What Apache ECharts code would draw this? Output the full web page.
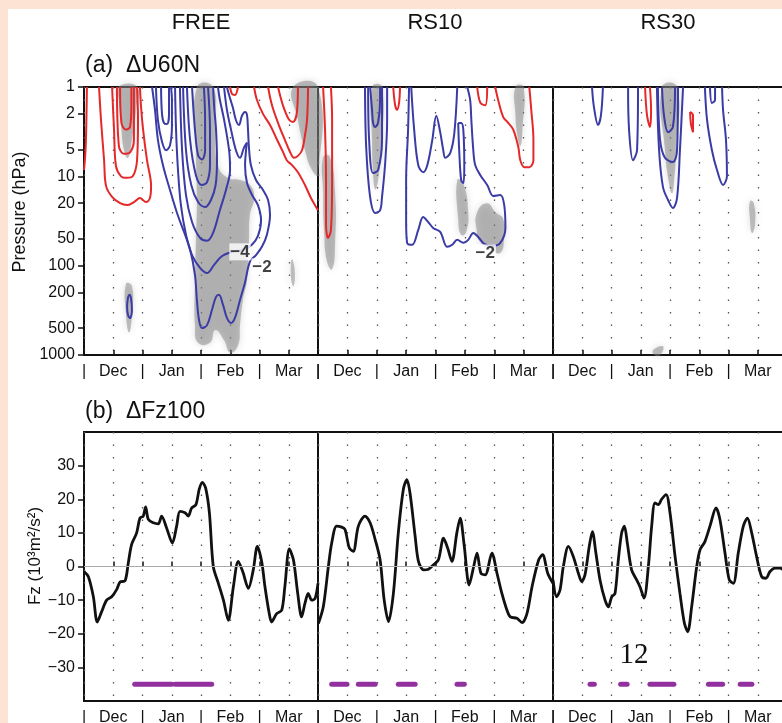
<!DOCTYPE html>
<html>
<head>
<meta charset="utf-8">
<script src="https://cdn.jsdelivr.net/npm/echarts@6/dist/echarts.min.js"></script>
<style>
  html, body { margin: 0; padding: 0; background: #fff; }
  #main { width: 782px; height: 723px; }
</style>
</head>
<body>
<div id="main"></div>
<script>
// ---- data (days from Dec 1, 30 days per month; pressure in hPa) ----
var panelNames = ['FREE', 'RS10', 'RS30'];
var monthNames = ['Dec', 'Jan', 'Feb', 'Mar'];
var pressureTicks = [1, 2, 5, 10, 20, 50, 100, 200, 500, 1000];
var fzTicks = [-30, -20, -10, 0, 10, 20, 30];
var sigLevel = -35;

// (a) dU60N contours, [day, hPa]
var freeRed = [
  [[1.5,1],[1.2,2.5],[0.8,5],[0,8.5]],
  [[7.7,1],[8.7,2.3],[10.3,6.6],[11.3,12.8],[14.4,17],[18.5,20],[22.1,21],[25.6,19.4],[28.7,17.5],[31.8,19.4],[33.8,17.5],[34.4,12.8],[32.3,6.6],[30.3,3],[29.2,1.6],[28.7,1]],
  [[14.4,1],[15.4,3],[16.4,7.7],[19,10],[22,10.4],[25,10],[27.2,6.6],[27.7,2.3],[27.2,1]],
  [[16.9,1],[17.9,4.6],[20.5,5.6],[23.6,5.4],[25.6,3.9],[25.6,1]],
  [[18.5,1],[19.2,2.5],[21.5,3],[23.6,2.8],[24.3,1.6],[24.3,1]],
  [[74.9,1],[75.9,1.2],[77.4,1.23],[79,1]],
  [[87.2,1],[88.7,1.4],[91.8,2],[95.4,2.66],[99,3.9],[102,5.3],[104,6.6],[106.7,7.5],[109.7,9],[113.3,12.5],[116.4,17.5],[119,22],[120,24]],
  [[94.4,1],[96.4,1.6],[100,2.7],[103,3.9],[105.6,5.3],[107.7,6.2],[109.7,5.9],[111.8,5.1],[113.3,3.5],[114.4,2.3],[114.9,1]],
  [[99.5,1],[102,1.6],[105,2.3],[107.2,2.47],[109.2,1.9],[109.7,1]]
];
var freeBlue = [
  [[34.9,1],[36.4,1.8],[37.9,3.9],[40.5,7.5],[44.1,14.2],[47.7,25.7],[51.3,42],[54.4,66],[56.9,127],[57.9,242],[59,406],[60.5,500],[63.1,463],[65.6,314],[67.7,224],[69.2,212],[71.3,275],[73.3,385],[75.4,439],[77.4,385],[80,242],[82.6,153],[85.1,90],[88.2,76],[91.3,61],[93.8,45],[95.4,27],[94.4,18.4],[91.8,14.2],[88.2,11],[85.6,7.5],[84.6,4.8],[84.1,3],[83.6,2.06],[82.6,1.9],[81,2.1],[79.5,2.66],[77.9,2.34],[76.4,1.72],[74.4,1.23],[73.3,1]],
  [[46.7,1],[47.2,3],[48.2,8.5],[49.7,21],[52.3,45],[55.4,76],[59.5,106],[63.1,121],[66.7,98],[70.8,78],[75.9,70],[82,66],[86.2,58],[89.2,46.5],[90.8,31],[89.2,21],[86.2,16.2],[83.6,11.9],[82.6,7.5],[83.1,5.1],[83.6,4.2],[82,4.8],[80,6.2],[77.9,5.1],[75.4,3],[73.3,1.8],[71.8,1]],
  [[49.2,1],[50.3,5.1],[52.3,16.2],[55.4,32.5],[59.5,49],[63.1,52.7],[66.2,43],[69.7,23.8],[72.8,14.2],[74.9,8.5],[74.4,5.1],[71.8,2.3],[69.7,1.4],[68.7,1]],
  [[50.8,1],[52.3,5.1],[55,12.5],[58.5,19.4],[62.1,22.1],[65.1,18.4],[67.5,12.5],[68.2,6.6],[67.7,3],[66.7,1.6],[66.2,1]],
  [[52.8,1],[54.4,3.9],[57.4,9.7],[60.5,12.5],[63.1,11.6],[64.6,7.5],[64.6,3],[63.6,1]],
  [[55.4,1],[56.9,3],[58.5,5.8],[60.5,6.5],[62.1,5.1],[62.1,2.3],[61.5,1]],
  [[36.9,1],[37.9,2.34],[40,4.1],[42.1,5.1],[44.1,4.5],[45.1,2.66],[45.1,1.4],[44.6,1]],
  [[39.5,1],[40,2],[41,2.53],[42.6,2.6],[43.6,2],[43.6,1]],
  [[22.6,224],[22.1,290],[22.6,360],[23.6,386],[24.6,315],[24.1,233],[23.3,212],[22.6,224]]
];
var freeShade = [
  [[17.4,1],[27.2,1],[26.7,1.8],[24.6,3.9],[22.6,6.2],[20.5,5.1],[19,2.7],[17.9,1.4]],
  [[57.9,1],[66.2,1],[67.2,3],[68.7,7.5],[73.8,10.4],[80,11],[85.1,12.5],[87.2,17.5],[85.1,27],[84.6,58],[83.6,145],[81.5,242],[80,463],[79,777],[74.9,940],[71.8,683],[67.2,527],[64.6,730],[58.5,730],[56.9,463],[56.9,145],[57.4,51],[57.9,18.4],[57.4,5.1]],
  [[107.2,1],[120,1],[120,9.7],[116.9,8.5],[113.3,5.1],[109.7,2.34]],
  [[106.5,85],[108,110],[107.5,170],[106.2,140]],
  [[21.5,160],[24.6,170],[24.6,350],[23.1,560],[21.5,350]]
];
var rs10Red = [
  [[2.6,1],[3.6,3],[4.1,11],[4.1,35],[5.1,49],[6.6,40],[7.2,11],[7.2,2.3],[6.6,1]],
  [[38.4,1],[39.4,1.6],[40.4,1.8],[41.4,1.5],[41.9,1]],
  [[81.3,1],[82.9,1.5],[85.4,1.6],[86.4,1]],
  [[90.5,1],[92,1.4],[94.6,2.17],[97.2,2.53],[99.7,3],[102.3,4.7],[103.3,6.6],[105.4,7.9],[107.9,7.9],[110,6.6],[110,3.9],[108.9,1.8],[107.9,1]]
];
var rs10Blue = [
  [[24,1],[24.6,4.7],[26.6,17],[29.2,25.7],[31.7,24],[32.7,17],[34.3,7.1],[35.3,2.34],[35.3,1]],
  [[25.6,1],[26.1,3.9],[28.1,9.2],[30.7,8.5],[32.7,3.9],[32.7,1]],
  [[26.6,1],[27.6,1.8],[28.1,2.5],[29.2,2.8],[30.7,2.5],[31.7,1.4],[31.7,1]],
  [[46.5,1],[46,3],[45,11],[45,30.8],[45.5,55.5],[48.1,58.4],[51.2,39.8],[53.7,28.5],[56.3,32.5],[58.8,37.8],[62.4,41.9],[66,61.5],[68.5,58.4],[71.1,51.4],[74.2,55.5],[76.7,51.4],[79.3,43],[81.8,47.7],[84.9,57],[89,60],[93.1,55.5],[95.7,37.8],[95.1,21],[93.1,16.2],[89.5,16.6],[86.4,12.5],[82.9,9.7],[80.3,7.5],[79.3,5.1],[78.3,2.34],[77.7,1.4],[76.2,1]],
  [[47.6,1],[49.1,3],[51.2,7.5],[53.7,9],[55.8,7.5],[58.3,4],[60.4,2.1],[62.4,3.2],[63.9,5],[65,6.2],[67.5,5.5],[69.6,3.3],[71.1,1]],
  [[71.6,2.53],[72.1,5.1],[73.1,11],[74.2,11.9],[74.7,7.5],[74.2,3],[73.1,2.53],[71.6,2.53]]
];
var rs10Shade = [
  [[2.6,6.1],[6,6],[8.7,15],[8.7,60],[7.2,110],[4.6,90],[3.1,40],[2.6,15]],
  [[27.6,1],[32.7,1],[32.2,5],[30.7,11],[29.2,14],[28.1,9],[27.6,4]],
  [[71.1,11],[74.2,12],[76.7,25],[75.5,43],[73,45],[71.6,30]],
  [[81.3,25],[86.4,20],[90.5,25],[94.6,30],[95,50],[93,72],[88,65],[83,55],[81,40]],
  [[100.8,1],[104.9,1],[104.4,3],[103.3,4.6],[101.8,3.5],[100.8,2]]
];
var rs30Red = [
  [[47.2,1],[48.2,2.06],[49.7,2.8],[50.3,1.8],[49.7,1]],
  [[70.3,1.9],[70.8,2.66],[71.8,3.2],[71.8,2.06],[70.3,1.9]]
];
var rs30Blue = [
  [[20,1],[21,1.68],[23.1,2.66],[24.6,2.06],[25.6,1]],
  [[38.5,1],[39,3],[41,6.6],[43.1,5.1],[43.6,1]],
  [[53.3,1],[54.4,5.1],[56.4,13.2],[59,18.4],[61.5,22.6],[63.6,17.5],[65.1,5.1],[66.7,1]],
  [[53.8,1],[54.9,3.9],[57.4,6.2],[61.5,6.9],[63.6,5.1],[64.1,1]],
  [[55.9,1],[56.9,2.06],[59,3.2],[61.5,2.8],[62.6,1]],
  [[77.9,1],[79,2.34],[81.5,5.1],[84.1,8.5],[87.2,12.5],[89.2,10],[88.7,3.9],[87.2,1.8],[86.7,1]],
  [[80.5,1],[81.5,1.51],[83.1,1.4],[83.1,1]]
];
var rs30Shade = [
  [[55.9,1],[63.6,1],[63.1,5],[62,12],[61,15.5],[59.5,12],[57.4,5]],
  [[101,19],[103,20],[103.6,35],[102,43],[101,30]],
  [[51.3,880],[56.4,800],[55,1000],[52,1000]]
];
// contour labels: [panel, day, hPa, text]
var contourLabels = [[0, 80, 70, '−4'], [0, 91.3, 103, '−2'], [1, 85.4, 72, '−2']];

// (b) dFz100, [day, value]
var fzFree = [[0,-1.5],[2.2,-3],[4.8,-9],[6.8,-16.5],[9,-13.5],[11.6,-10],[14.2,-9],[16.8,-6.8],[18.5,-4.6],[21,-4.3],[22.7,1],[24.4,6.5],[27,10],[28.7,14.4],[30.4,15],[31.6,17.7],[33,14],[35.6,13],[38.1,12.7],[39.8,15],[42.4,11.4],[45.3,7],[47.5,12],[49.2,16.4],[51.8,16],[53.5,15],[55.2,17.4],[57.4,18.4],[59.1,23],[60.7,25],[62.4,23.3],[64.3,16],[66.3,0],[68.9,-5],[71.5,-10],[74,-16],[76.6,-6],[79.1,1.5],[81.4,-1.5],[84.3,-6.5],[86.8,-1],[88.9,6],[91.1,1.5],[92.8,-6],[95,-14],[96.2,-16.5],[98.8,-14],[101.4,-13],[103,-6],[105.3,5.2],[107.4,2],[109.6,-8],[111.6,-15],[113.3,-11],[115,-8],[116.8,-10],[118.5,-9.5],[120,-5]];
var fzRs10 = [[0.2,-17],[2.7,-12],[5.3,0],[7,7],[9.5,12],[12.1,11.7],[13.8,11],[16,5.5],[18,4.5],[20.6,12],[24,15],[26.6,13],[29.2,8],[31.7,2],[33.8,-10],[36,-16.4],[38.5,-8],[41,10],[43.6,23],[45.4,25.8],[47,21.8],[49.6,9],[51.3,1.5],[53.9,-1],[56.4,-0.8],[59,0.5],[61.5,2],[64.1,8.4],[66.2,5.5],[68.4,1.5],[70.9,10],[72.6,14.4],[74.7,6],[77.2,-5.5],[79.5,0],[81.2,4],[83.2,-2],[85.4,-2.5],[88.8,4],[91.4,-2],[93.9,-8],[96.5,-13],[98.2,-15],[101.6,-15.4],[104.2,-16.7],[106.7,-14],[109.3,-6],[112.7,2],[114.7,3.5],[117.3,-2],[120,-5]];
var fzRs30 = [[0,-4],[1.9,-9],[3.6,-7],[5.3,0],[7.9,6],[10.4,3],[13,-2],[14.7,-4.5],[16.4,-2.5],[18.6,6],[20.2,10.4],[22,4],[24.1,-4],[26.7,-10],[28.4,-12],[30.1,-9],[31.8,-8],[33.5,2],[35.2,10],[36.6,12],[38.1,7],[40.3,-1],[42.9,-4],[44.6,-6],[46.7,-9.4],[48.9,0],[50.6,12],[52.3,18.9],[54,18.4],[55.7,20],[58,21.4],[60,16],[62.6,3],[65.1,-8],[67.4,-16.9],[69.1,-19.4],[71.1,-12],[73.7,0],[75.4,5],[77.9,7.4],[80.5,12],[83.6,17.4],[85.6,14],[88.2,4],[90.4,-4],[92.5,-5],[95,4],[97.6,12],[99.7,14.4],[101.9,10],[104.4,3],[107,-3],[109.2,-3.5],[111.3,-1.5],[113.8,-0.5],[116.4,-0.5],[119,-1.5]];
// significant periods [startDay, endDay]
var sigFree = [[26,45],[46.7,65.5]];
var sigRs10 = [[7,14.8],[20.6,29.2],[41,49.6],[71,74.7]];
var sigRs30 = [[19,21.2],[34.7,38],[49.7,62],[79.7,87],[96,102]];

// ---- chart ----
var FONT = '"Liberation Sans", Arial, sans-serif';
var INK = '#111';
var RED = '#e5292a';
var BLUE = '#3b3ba6';
var PURPLE = '#93309f';
var lefts = [84, 318, 553];
var widths = [234, 235, 234];

var grids = [], xAxes = [], yAxes = [], series = [];

for (var k = 0; k < 6; k++) {
  var col = k % 3, isTop = k < 3;
  grids.push({
    left: lefts[col], width: widths[col],
    top: isTop ? 87 : 432, height: isTop ? 268 : 269,
    outerBoundsMode: 'none', containLabel: false,
    show: true, borderColor: INK, borderWidth: 2, backgroundColor: 'transparent'
  });
  xAxes.push({
    type: 'value', gridIndex: k, min: 0, max: 120, interval: 15,
    axisLine: { show: false },
    axisTick: { show: true, inside: true, length: 5, lineStyle: { color: INK, width: 1.5 } },
    axisLabel: {
      show: true, margin: 9, color: INK, fontFamily: FONT, fontSize: 16,
      showMinLabel: true, showMaxLabel: true,
      formatter: function (v) { return v % 30 === 0 ? '|' : monthNames[Math.floor(v / 30)]; }
    },
    splitLine: { show: true, lineStyle: { color: '#555', width: 1.3, type: [1.5, 11] } }
  });
  if (isTop) {
    yAxes.push({
      type: 'log', logBase: 10, gridIndex: k, min: 1, max: 1000, inverse: true,
      axisLine: { show: false },
      axisTick: { show: col === 0, length: 6, customValues: pressureTicks, lineStyle: { color: INK, width: 1.5 } },
      axisLabel: {
        show: col === 0, margin: 9, color: INK, fontFamily: FONT, fontSize: 16, customValues: pressureTicks,
        formatter: function (v) { return String(Math.round(v)); }
      },
      minorTick: { show: false },
      splitLine: { show: false }
    });
  } else {
    yAxes.push({
      type: 'value', gridIndex: k, min: -40, max: 40, interval: 10,
      axisLine: { show: false },
      axisTick: { show: col === 0, length: 6, customValues: fzTicks, lineStyle: { color: INK, width: 1.5 } },
      axisLabel: {
        show: col === 0, margin: 9, color: INK, fontFamily: FONT, fontSize: 16, customValues: fzTicks,
        formatter: function (v) { return Math.abs(v) >= 40 ? '' : String(v).replace('-', '\u2212'); }
      },
      splitLine: { show: false }
    });
  }
}

function contourSeries(paths, color, k) {
  paths.forEach(function (path) {
    series.push({
      type: 'line', xAxisIndex: k, yAxisIndex: k, data: path, smooth: 0.35,
      symbol: 'none', silent: true, z: 3,
      lineStyle: { color: color, width: 2 }
    });
  });
}

function shadeSeries(polys, k) {
  series.push({
    type: 'custom', xAxisIndex: k, yAxisIndex: k, silent: true, z: 1,
    data: polys.map(function (p, i) { return [p[0][0], p[0][1], i]; }),
    renderItem: function (params, api) {
      var poly = polys[params.dataIndex];
      return {
        type: 'polygon',
        shape: { points: poly.map(function (pt) { return api.coord(pt); }), smooth: 0.5 },
        style: { fill: 'rgba(128,128,128,0.48)', shadowBlur: 7, shadowColor: 'rgba(128,128,128,0.6)' }
      };
    }
  });
}

function fzSeries(data, sig, k) {
  series.push({
    type: 'line', xAxisIndex: k, yAxisIndex: k, data: data, smooth: 0.3,
    symbol: 'none', silent: true, z: 4,
    lineStyle: { color: INK, width: 2.8 },
    markLine: {
      silent: true, symbol: 'none', label: { show: false },
      lineStyle: { color: '#aaa', width: 1, type: 'solid' },
      data: [{ yAxis: 0 }]
    }
  });
  sig.forEach(function (s) {
    series.push({
      type: 'line', xAxisIndex: k, yAxisIndex: k, data: [[s[0], sigLevel], [s[1], sigLevel]],
      symbol: 'none', silent: true, z: 4,
      lineStyle: { color: PURPLE, width: 5, cap: 'round' }
    });
  });
}

shadeSeries(freeShade, 0); shadeSeries(rs10Shade, 1); shadeSeries(rs30Shade, 2);
contourSeries(freeRed, RED, 0); contourSeries(freeBlue, BLUE, 0);
contourSeries(rs10Red, RED, 1); contourSeries(rs10Blue, BLUE, 1);
contourSeries(rs30Red, RED, 2); contourSeries(rs30Blue, BLUE, 2);
contourLabels.forEach(function (c) {
  series.push({
    type: 'scatter', xAxisIndex: c[0], yAxisIndex: c[0], data: [[c[1], c[2]]],
    symbolSize: 0, silent: true, z: 6,
    label: {
      show: true, position: 'inside', formatter: c[3], color: INK,
      fontFamily: FONT, fontSize: 17, fontWeight: 'bold', backgroundColor: '#fff', padding: [0, 1]
    }
  });
});
fzSeries(fzFree, sigFree, 3); fzSeries(fzRs10, sigRs10, 4); fzSeries(fzRs30, sigRs30, 5);

var graphics = [
  { type: 'rect', shape: { x: 0, y: 0, width: 782, height: 9 }, style: { fill: '#fde3d3' }, z: 20 },
  { type: 'rect', shape: { x: 0, y: 0, width: 8, height: 723 }, style: { fill: '#fde3d3' }, z: 20 },
  { type: 'text', x: 85, y: 66, style: { text: '(a)  \u0394U60N', fill: INK, font: '23px ' + FONT, textVerticalAlign: 'middle' }, z: 10 },
  { type: 'text', x: 85, y: 412, style: { text: '(b)  \u0394Fz100', fill: INK, font: '23px ' + FONT, textVerticalAlign: 'middle' }, z: 10 },
  { type: 'text', x: 20, y: 212, rotation: Math.PI / 2, style: { text: 'Pressure (hPa)', fill: INK, font: '18px ' + FONT, textAlign: 'center', textVerticalAlign: 'middle' }, z: 10 },
  { type: 'text', x: 35, y: 556, rotation: Math.PI / 2, style: { text: 'Fz (10\u00b3m\u00b2/s\u00b2)', fill: INK, font: '17px ' + FONT, textAlign: 'center', textVerticalAlign: 'middle' }, z: 10 },
  { type: 'text', x: 634, y: 655, style: { text: '12', fill: INK, font: '29px "Liberation Serif", serif', textAlign: 'center', textVerticalAlign: 'middle' }, z: 10 }
];
var titleCenters = [201, 435, 668];
panelNames.forEach(function (name, i) {
  graphics.push({ type: 'text', x: titleCenters[i], y: 23, style: { text: name, fill: INK, font: '22px ' + FONT, textAlign: 'center', textVerticalAlign: 'middle' }, z: 10 });
});

var chart = echarts.init(document.getElementById('main'), null, { renderer: 'canvas' });
chart.setOption({
  animation: false,
  backgroundColor: '#fff',
  grid: grids, xAxis: xAxes, yAxis: yAxes,
  series: series,
  graphic: graphics
});
</script>
</body>
</html>
